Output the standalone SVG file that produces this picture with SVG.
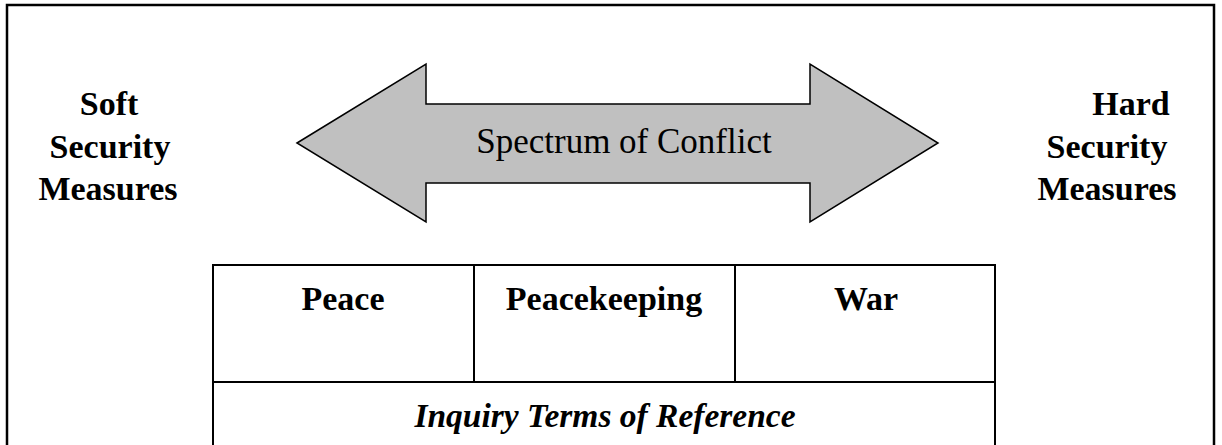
<svg xmlns="http://www.w3.org/2000/svg" width="1222" height="445" viewBox="0 0 1222 445">
  <style>
    .side { font-family: "Liberation Serif", "Times New Roman", serif; font-weight: bold; font-size: 34px; fill: #000; text-anchor: middle; }
    .cell { font-family: "Liberation Serif", "Times New Roman", serif; font-weight: bold; font-size: 34px; fill: #000; text-anchor: middle; }
    .scope { font-family: "Liberation Serif", "Times New Roman", serif; font-weight: bold; font-style: italic; font-size: 33.5px; fill: #000; text-anchor: middle; }
    .spectrum { font-family: "Liberation Serif", "Times New Roman", serif; font-size: 35px; fill: #000; text-anchor: middle; }
    .frame { fill: none; stroke: #000; stroke-width: 2.5; }
    .grid { fill: none; stroke: #000; stroke-width: 2; }
    .arrow { fill: #c0c0c0; stroke: #000; stroke-width: 1.5; stroke-linejoin: miter; }
  </style>

  <rect width="1222" height="445" fill="#fff"/>

  <!-- outer frame, open at the bottom edge -->
  <path class="frame" d="M7,460 V5 H1214 V460"/>

  <!-- left heading -->
  <g id="soft-measures">
    <text class="side" x="109" y="115">Soft</text>
    <text class="side" x="110" y="158">Security</text>
    <text class="side" x="108" y="200">Measures</text>
  </g>

  <!-- right heading -->
  <g id="hard-measures">
    <text class="side" x="1131" y="115">Hard</text>
    <text class="side" x="1107" y="158">Security</text>
    <text class="side" x="1107" y="200">Measures</text>
  </g>

  <!-- double-headed spectrum arrow -->
  <g id="spectrum">
    <path class="arrow" d="M297,143 L426,64 V104 H810 V64 L938,143 L810,222 V183 H426 V222 Z"/>
    <text class="spectrum" x="624" y="153">Spectrum of Conflict</text>
  </g>

  <!-- table of conflict phases -->
  <g id="phase-table">
    <path class="grid" d="M213,460 V265 H995 V460 M213,382 H995 M474,265 V382 M735,265 V382"/>
  </g>
  <g id="peace">
    <text class="cell" x="343" y="310">Peace</text>
  </g>
  <g id="peacekeeping">
    <text class="cell" x="604" y="310">Peacekeeping</text>
  </g>
  <g id="war">
    <text class="cell" x="866" y="310">War</text>
  </g>
  <g id="terms-of-reference">
    <text class="scope" x="605" y="427">Inquiry Terms of Reference</text>
  </g>
</svg>
